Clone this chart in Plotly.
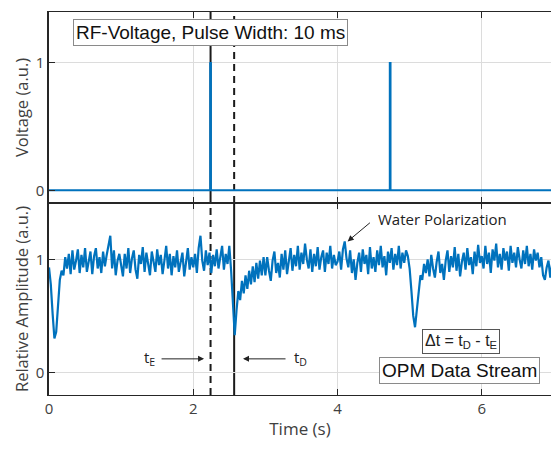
import plotly.graph_objects as go

# ---------------- data ----------------
# RF voltage pulses (10 ms wide)
pulse_t = [0.0, 2.235, 2.235, 2.245, 2.245, 4.725, 4.725, 4.735, 4.735, 7.0]
pulse_v = [0, 0, 1, 1, 0, 0, 1, 1, 0, 0]

# OPM relative amplitude, sampled every 25 ms from t = 0 s
amp = [
    # 0 - 1 s
    0.93, 0.78, 0.52, 0.30, 0.36, 0.62, 0.82, 0.90, 0.86, 1.02,
    0.92, 1.05, 0.87, 1.08, 0.91, 0.99, 1.09, 0.88, 1.04, 0.93,
    1.10, 0.89, 0.98, 1.07, 0.87, 1.03, 1.10, 0.92, 1.02, 0.88,
    1.07, 0.94, 1.04, 1.13, 1.21, 0.92, 1.08, 0.86, 0.99, 1.05,
    # 1 - 2 s
    0.95, 0.85, 1.05, 0.92, 1.10, 0.88, 1.01, 1.08, 0.91, 0.83,
    1.04, 0.96, 1.11, 0.89, 1.06, 0.94, 0.86, 1.07, 0.99, 0.89,
    1.09, 0.95, 1.04, 0.87, 0.99, 1.12, 0.92, 1.05, 0.86, 1.03,
    0.93, 1.08, 0.89, 0.99, 1.06, 0.85, 0.96, 1.10, 0.91, 1.02,
    # 2 - 3 s
    0.93, 1.05, 0.88, 1.10, 1.21, 0.99, 0.90, 1.08, 0.95, 1.06,
    0.88, 1.04, 0.94, 1.09, 0.92, 1.02, 1.12, 0.91, 1.05, 0.96,
    1.12, 0.90, 0.62, 0.33, 0.55, 0.72, 0.64, 0.81, 0.70, 0.86,
    0.74, 0.90, 0.78, 0.94, 0.80, 0.97, 0.83, 0.99, 0.86, 1.02,
    # 3 - 4 s
    0.86, 1.02, 0.90, 0.81, 0.99, 1.07, 0.88, 0.97, 0.84, 1.05,
    0.91, 1.08, 0.87, 1.00, 1.10, 0.90, 1.04, 0.94, 1.12, 0.91,
    1.06, 0.96, 1.14, 1.00, 0.92, 1.09, 0.89, 1.05, 0.94, 1.11,
    0.91, 1.02, 1.08, 0.89, 1.06, 0.96, 1.12, 0.92, 1.04, 0.95,
    # 4 - 5 s
    0.98, 1.07, 0.91, 1.09, 1.16, 1.01, 0.93, 1.08, 0.88, 1.00,
    0.82, 0.97, 1.06, 0.89, 1.09, 0.96, 1.04, 0.87, 1.11, 0.92,
    1.02, 0.89, 1.08, 0.95, 1.12, 0.93, 1.03, 0.86, 1.07, 0.97,
    1.10, 0.91, 1.05, 0.95, 1.12, 0.92, 1.06, 0.97, 1.08, 1.03,
    # 5 - 6 s
    0.92, 0.72, 0.50, 0.40, 0.55, 0.75, 0.86, 0.82, 0.96, 0.88,
    1.00, 0.85, 1.04, 0.92, 0.84, 0.98, 1.07, 0.88, 0.96, 0.82,
    0.99, 1.08, 0.89, 1.03, 0.93, 1.11, 0.90, 1.05, 0.85, 0.98,
    1.06, 0.91, 1.10, 0.95, 1.02, 0.87, 1.07, 0.94, 1.13, 0.97,
    # 6 - 7 s
    1.03, 0.92, 1.12, 0.96, 1.06, 0.88, 1.09, 0.99, 1.14, 0.93,
    1.05, 0.91, 1.10, 0.99, 1.07, 0.90, 1.12, 0.97, 1.06, 0.93,
    1.11, 1.00, 0.92, 1.08, 0.96, 1.12, 0.94, 1.05, 0.91, 1.09,
    0.99, 1.06, 0.93, 1.02, 0.86, 0.82, 0.93, 0.99, 0.84, 0.96, 0.94,
]
dt = 0.025
amp_t = [round(i * dt, 3) for i in range(len(amp))]

t_E = 2.24    # emission (pulse) time
t_D = 2.567   # detection time

x_ticks = [0, 2, 4, 6]
y_ticks = [0, 1]

# ---------------- style ----------------
BLUE = "#0072BD"
AX = "#262626"
GRID = "#dcdcdc"
TXT = "#404040"
SANS = "Open Sans"
ARIAL = "Liberation Sans"

fig = go.Figure()
fig.add_trace(go.Scatter(x=pulse_t, y=pulse_v, mode="lines",
                         line=dict(color=BLUE, width=2),
                         xaxis="x2", yaxis="y2", showlegend=False, hoverinfo="skip"))
fig.add_trace(go.Scatter(x=amp_t, y=amp, mode="lines",
                         line=dict(color=BLUE, width=2.2),
                         xaxis="x", yaxis="y", showlegend=False, hoverinfo="skip"))

split = 192 / 383
common_x = dict(range=[0, 6.96], tickvals=x_ticks, showgrid=True, gridcolor=GRID,
                gridwidth=1, showline=True, linecolor=AX, linewidth=1.2,
                mirror="allticks", ticks="inside", ticklen=6, tickcolor=AX,
                tickwidth=1, zeroline=False, automargin=False)
common_y = dict(showgrid=True, gridcolor=GRID, gridwidth=1, showline=True,
                linecolor=AX, linewidth=1.5, ticks="inside", ticklen=6,
                tickcolor=AX, tickwidth=1, zeroline=False, automargin=False,
                tickvals=y_ticks, tickfont=dict(family=SANS, size=15, color=TXT))

fig.update_layout(
    width=551, height=450,
    margin=dict(l=49, r=0, t=12, b=55),
    paper_bgcolor="white", plot_bgcolor="white",
    xaxis=dict(**common_x, anchor="y", domain=[0, 1],
               tickfont=dict(family=SANS, size=15, color=TXT),
               title=dict(text="Time (s)", font=dict(family=SANS, size=17, color=TXT),
                          standoff=6)),
    xaxis2=dict(**common_x, anchor="y2", domain=[0, 1], matches="x",
                showticklabels=False),
    yaxis=dict(**common_y, domain=[0, split], range=[-0.2, 1.5],
               title=dict(text="Relative Amplitude (a.u.)",
                          font=dict(family=SANS, size=16.5, color=TXT), standoff=3)),
    yaxis2=dict(**common_y, domain=[split, 1], range=[-0.1, 1.4],
                title=dict(text="Voltage (a.u.)",
                           font=dict(family=SANS, size=16.5, color=TXT), standoff=3)),
)

# vertical marker lines
shapes = []
def vline(x, yref, dash):
    shapes.append(dict(type="line", x0=x, x1=x, y0=0, y1=1, xref="x", yref=yref,
                       line=dict(color="#1a1a1a", width=2, dash=dash), layer="below"))

vline(t_E, "y2 domain", "solid")
vline(t_D, "y2 domain", "7px,5px")
vline(t_E, "y domain", "7px,5px")
vline(t_D, "y domain", "solid")
fig.update_layout(shapes=shapes)

# annotations
ann = []
ann.append(dict(text="RF-Voltage, Pulse Width: 10 ms", x=2.24, y=1.24, xref="x2", yref="y2",
                showarrow=False, font=dict(family=ARIAL, size=19, color="#111"),
                bgcolor="white", bordercolor="#8a8a8a", borderwidth=1, borderpad=2))
ann.append(dict(text="OPM Data Stream", x=5.69, y=0.013, xref="x", yref="y",
                showarrow=False, font=dict(family=ARIAL, size=19, color="#111"),
                bgcolor="white", bordercolor="#8a8a8a", borderwidth=1, borderpad=2))
ann.append(dict(text="Δt = t<sub>D</sub> - t<sub>E</sub>", x=5.71, y=0.27, xref="x", yref="y",
                showarrow=False, font=dict(family=ARIAL, size=16, color="#222"),
                bgcolor="white", bordercolor="#555", borderwidth=1, borderpad=2))
ann.append(dict(text="Water Polarization", x=5.46, y=1.354, xref="x", yref="y",
                showarrow=False, font=dict(family=SANS, size=15, color="#222")))
ann.append(dict(text="", x=4.14, y=1.16, ax=4.47, ay=1.336, xref="x", yref="y",
                axref="x", ayref="y", showarrow=True, arrowhead=2, arrowsize=1.2,
                arrowwidth=1, arrowcolor="#222"))
ann.append(dict(text="t<sub>E</sub>", x=1.40, y=0.13, xref="x", yref="y",
                showarrow=False, font=dict(family=SANS, size=15, color="#222")))
ann.append(dict(text="", x=2.15, y=0.12, ax=1.54, ay=0.12, xref="x", yref="y",
                axref="x", ayref="y", showarrow=True, arrowhead=2, arrowsize=1.2,
                arrowwidth=1, arrowcolor="#222"))
ann.append(dict(text="t<sub>D</sub>", x=3.48, y=0.13, xref="x", yref="y",
                showarrow=False, font=dict(family=SANS, size=15, color="#222")))
ann.append(dict(text="", x=2.69, y=0.12, ax=3.30, ay=0.12, xref="x", yref="y",
                axref="x", ayref="y", showarrow=True, arrowhead=2, arrowsize=1.2,
                arrowwidth=1, arrowcolor="#222"))
fig.update_layout(annotations=ann)

fig.write_html("out.html", config={"displayModeBar": False},
               post_script="document.body.style.margin='0';document.body.style.padding='0';")
